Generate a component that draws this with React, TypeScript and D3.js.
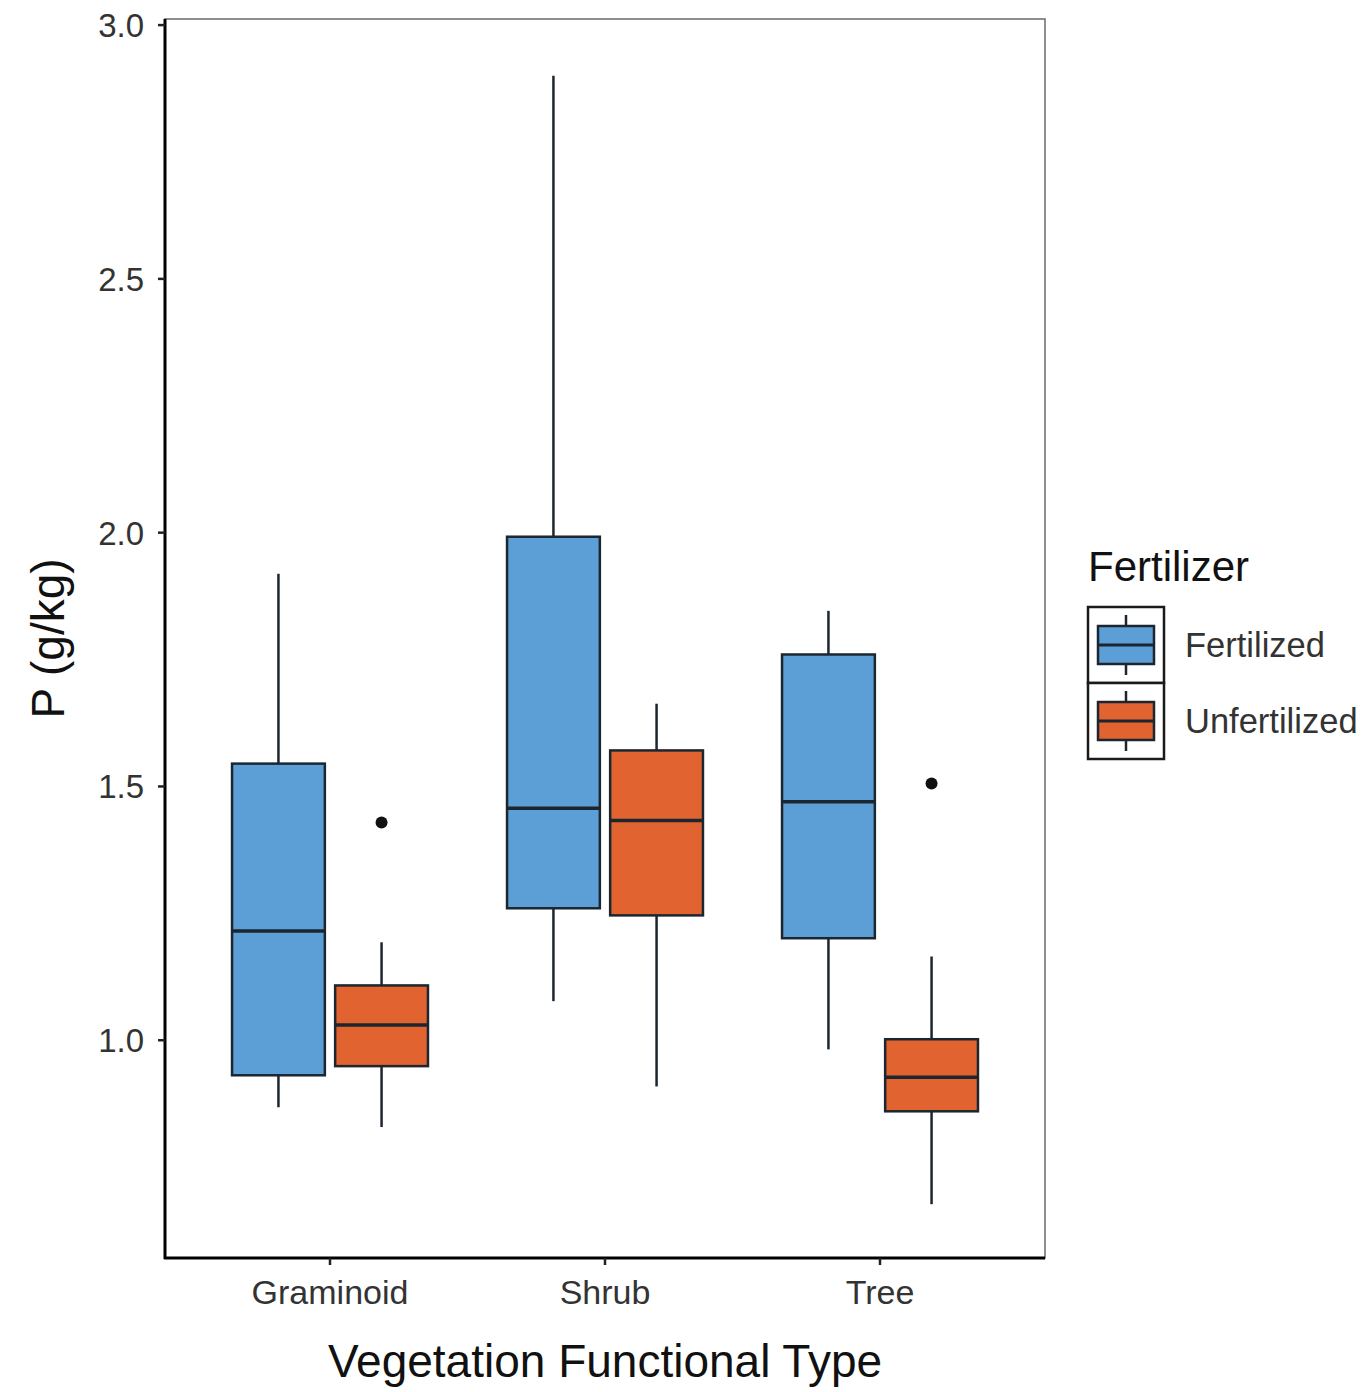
import React from "react";
import * as d3 from "d3";

// Categories, fill groups and the five-number summaries for each box
const categories = ["Graminoid", "Shrub", "Tree"];
const groups = ["Fertilized", "Unfertilized"];
const groupColors = ["#5B9FD6", "#E1632F"];

// [lower whisker, Q1, median, Q3, upper whisker] per category
const fertilizedStats = [
  [0.868, 0.931, 1.215, 1.545, 1.919],
  [1.077, 1.26, 1.457, 1.992, 2.9],
  [0.982, 1.201, 1.47, 1.76, 1.846],
];
const unfertilizedStats = [
  [0.829, 0.949, 1.03, 1.108, 1.193],
  [0.909, 1.246, 1.433, 1.571, 1.663],
  [0.677, 0.86, 0.927, 1.002, 1.165],
];
// Outlying points: [category, group, value]
const outliers: [string, string, number][] = [
  ["Graminoid", "Unfertilized", 1.429],
  ["Tree", "Unfertilized", 1.506],
];
const yTicks = [1.0, 1.5, 2.0, 2.5, 3.0];

const W = 1365;
const H = 1392;
const FONT = "'Liberation Sans', Arial, Helvetica, sans-serif";
const panel = { left: 165, right: 1045, top: 19, bottom: 1258 };
const STROKE = "#1C2630";

export default function App() {
  const y = d3.scaleLinear().domain([0.571, 3.012]).range([panel.bottom, panel.top]);
  const x = d3
    .scaleBand<string>()
    .domain(categories)
    .range([panel.left, panel.right])
    .paddingInner(0.25)
    .paddingOuter(0.225);
  const xg = d3.scaleBand<string>().domain(groups).range([0, x.bandwidth()]).padding(0);
  const boxW = xg.bandwidth() * 0.9;

  const series = [fertilizedStats, unfertilizedStats];

  const boxes = categories.flatMap((cat, ci) =>
    groups.map((g, gi) => {
      const [lo, q1, med, q3, hi] = series[gi][ci];
      const cx = (x(cat) as number) + (xg(g) as number) + xg.bandwidth() / 2;
      return (
        <g key={cat + g}>
          <line x1={cx} x2={cx} y1={y(hi)} y2={y(q3)} stroke={STROKE} strokeWidth={2.5} />
          <line x1={cx} x2={cx} y1={y(q1)} y2={y(lo)} stroke={STROKE} strokeWidth={2.5} />
          <rect
            x={cx - boxW / 2}
            y={y(q3)}
            width={boxW}
            height={y(q1) - y(q3)}
            fill={groupColors[gi]}
            stroke={STROKE}
            strokeWidth={2.5}
          />
          <line
            x1={cx - boxW / 2}
            x2={cx + boxW / 2}
            y1={y(med)}
            y2={y(med)}
            stroke={STROKE}
            strokeWidth={3.5}
          />
        </g>
      );
    })
  );

  const points = outliers.map(([cat, g, v], i) => {
    const cx = (x(cat) as number) + (xg(g) as number) + xg.bandwidth() / 2;
    return <circle key={i} cx={cx} cy={y(v)} r={6} fill="#111" />;
  });

  // legend key geometry
  const lgX = 1088;
  const lgY = 607;
  const keyW = 76;
  const keyH = 76;

  return (
    <div style={{ position: "absolute", left: 0, top: 0 }}>
      <svg width={W} height={H} style={{ display: "block", background: "#fff" }} fontFamily={FONT}>
        <rect x={0} y={0} width={W} height={H} fill="#fff" />
        {/* panel border */}
        <rect
          x={panel.left}
          y={panel.top}
          width={panel.right - panel.left}
          height={panel.bottom - panel.top}
          fill="#fff"
          stroke="#6a6a6a"
          strokeWidth={1.5}
        />
        {boxes}
        {points}
        {/* axis lines */}
        <line x1={panel.left} x2={panel.left} y1={panel.top} y2={panel.bottom + 1} stroke="#000" strokeWidth={3} />
        <line x1={panel.left - 1} x2={panel.right} y1={panel.bottom} y2={panel.bottom} stroke="#000" strokeWidth={3} />
        {/* y ticks */}
        {yTicks.map((t) => (
          <g key={t}>
            <line x1={panel.left - 7} x2={panel.left} y1={y(t)} y2={y(t)} stroke="#222" strokeWidth={2.5} />
            <text
              x={panel.left - 21}
              y={y(t)}
              dy="0.36em"
              textAnchor="end"
              fontSize={33}
              fill="#333"
            >
              {t.toFixed(1)}
            </text>
          </g>
        ))}
        {/* x ticks */}
        {categories.map((c) => {
          const cx = (x(c) as number) + x.bandwidth() / 2;
          return (
            <g key={c}>
              <line x1={cx} x2={cx} y1={panel.bottom} y2={panel.bottom + 7} stroke="#222" strokeWidth={2.5} />
              <text x={cx} y={1304} textAnchor="middle" fontSize={34} fill="#333">
                {c}
              </text>
            </g>
          );
        })}
        {/* axis titles */}
        <text x={(panel.left + panel.right) / 2} y={1377} textAnchor="middle" fontSize={46} fill="#111">
          Vegetation Functional Type
        </text>
        <text
          transform={`translate(64, ${(panel.top + panel.bottom) / 2}) rotate(-90)`}
          textAnchor="middle"
          fontSize={46}
          fill="#111"
        >
          P (g/kg)
        </text>
        {/* legend */}
        <text x={lgX} y={581} fontSize={42} fill="#111">
          Fertilizer
        </text>
        {groups.map((g, i) => {
          const top = lgY + i * keyH;
          const cx = lgX + keyW / 2;
          const bTop = top + 19;
          const bBot = top + 57;
          return (
            <g key={g}>
              <rect x={lgX} y={top} width={keyW} height={keyH} fill="#fff" stroke="#1a1a1a" strokeWidth={2.5} />
              <line x1={cx} x2={cx} y1={top + 8} y2={top + keyH - 8} stroke={STROKE} strokeWidth={2.5} />
              <rect
                x={lgX + 10}
                y={bTop}
                width={keyW - 20}
                height={bBot - bTop}
                fill={groupColors[i]}
                stroke={STROKE}
                strokeWidth={2.5}
              />
              <line x1={lgX + 10} x2={lgX + keyW - 10} y1={(bTop + bBot) / 2} y2={(bTop + bBot) / 2} stroke={STROKE} strokeWidth={3} />
              <text x={1185} y={top + keyH / 2} dy="0.36em" fontSize={34.5} fill="#333">
                {g}
              </text>
            </g>
          );
        })}
      </svg>
    </div>
  );
}
